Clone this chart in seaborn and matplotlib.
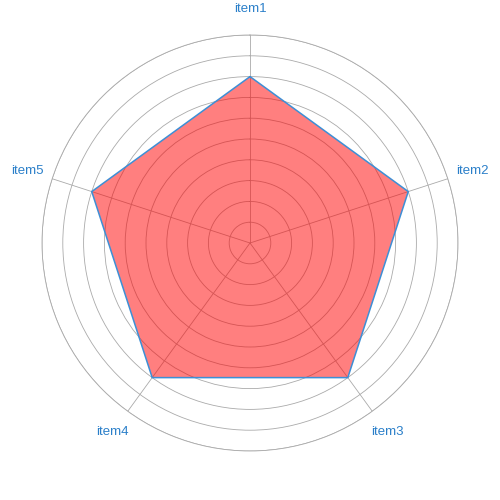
import numpy as np
import matplotlib
matplotlib.use("Agg")
import matplotlib.pyplot as plt
import seaborn as sns

labels = ["item1", "item2", "item3", "item4", "item5"]
values = [80, 80, 80, 80, 80]
max_value = 100
ring_values = [10, 20, 30, 40, 50, 60, 70, 80, 90, 100]

sns.set_style("white")
plt.rcParams["font.family"] = ["Liberation Sans", "DejaVu Sans"]

angles = np.linspace(0, 2 * np.pi, len(labels), endpoint=False)
theta = np.append(angles, angles[0])
r = np.append(values, values[0])

fig = plt.figure(figsize=(5, 5), dpi=100)
ax = fig.add_axes([0.084, 0.098, 0.832, 0.832], polar=True)
ax.set_theta_offset(np.pi / 2)
ax.set_theta_direction(-1)
ax.set_ylim(0, max_value)

ax.fill(theta, r, color="#ff0000", alpha=0.5, linewidth=0, zorder=2)
ax.plot(theta, r, color="#3d8fd6", linewidth=1.1, zorder=4)

ax.set_yticks(ring_values)
ax.set_yticklabels([])
ax.set_xticks(angles)
ax.set_xticklabels(labels, color="#2a7fc9", fontsize=9.5)
ax.tick_params(axis="x", pad=8)
ax.grid(True, color="#aaaaaa", linewidth=0.6)
ax.spines["polar"].set_color("#aaaaaa")
ax.spines["polar"].set_linewidth(0.6)

fig.savefig("out.png", dpi=100, facecolor="white")
